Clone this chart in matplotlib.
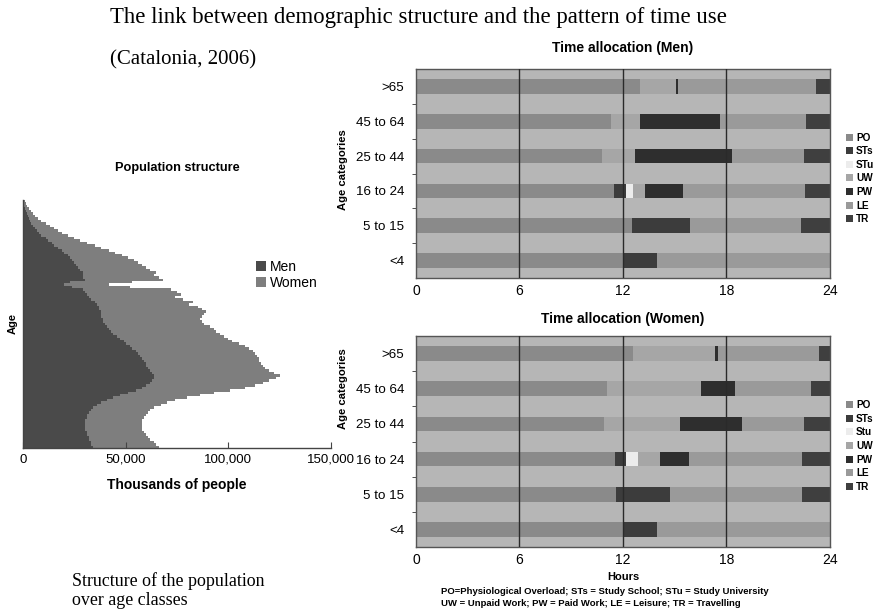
import matplotlib
matplotlib.use("Agg")
import matplotlib.pyplot as plt
import numpy as np

# ---------------- data ----------------
# Population of Catalonia by single year of age (0..100)
ages = list(range(0, 101))
men = [34, 33, 33, 32, 32, 31, 31, 30, 30, 30,
       30, 30, 31, 31, 32, 33, 34, 36, 38, 41,
       44, 47, 51, 55, 58, 60, 62, 63, 64, 64,
       63, 62, 61, 60, 60, 59, 58, 57, 56, 55,
       53, 52, 50, 49, 47, 46, 44, 43, 42, 41,
       40, 39, 39, 38, 38, 38, 37, 37, 36, 35,
       33, 32, 31, 30, 29, 24, 20, 23, 30, 29,
       29, 29, 28, 27, 26, 25, 24, 23, 22, 20,
       19, 17, 15, 14, 12, 11, 9, 8, 7, 6,
       5, 4, 3.5, 3, 2.5, 2, 1.5, 1, 0.7, 0.5,
       0.5]
women = [32, 32, 31, 30, 29, 29, 28, 28, 28, 28,
         28, 28, 28, 29, 29, 29, 30, 31, 32, 33,
         36, 39, 42, 46, 50, 53, 55, 57, 59, 61,
         59, 58, 57, 57, 56, 56, 57, 57, 57, 57,
         57, 56, 55, 53, 53, 52, 52, 51, 51, 50,
         48, 48, 47, 49, 50, 51, 50, 48, 45, 48,
         45, 42, 46, 45, 43, 28, 22, 30, 38, 37,
         35, 36, 34, 33, 32, 31, 30, 28, 26, 25,
         23, 21, 20, 17, 16, 14, 13, 11, 10, 9,
         8, 7, 5.5, 4.5, 3.5, 3, 2.5, 2, 1.3, 1,
         0.7]
men = [v * 1000 for v in men]
women = [v * 1000 for v in women]
pop_ticks = [0, 50000, 100000, 150000]
pop_tick_labels = ["0", "50,000", "100,000", "150,000"]

# Daily time allocation (hours) by age category
age_categories = ["<4", "5 to 15", "16 to 24", "25 to 44", "45 to 64", ">65"]
activities = ["PO", "STs", "STu", "UW", "PW", "LE", "TR"]
activities_women_labels = ["PO", "STs", "Stu", "UW", "PW", "LE", "TR"]

men_hours = {
    "PO":  [12.0, 12.5, 11.45, 10.8, 11.3, 13.0],
    "STs": [2.0, 3.4, 0.75, 0.0, 0.0, 0.0],
    "STu": [0.0, 0.0, 0.4, 0.0, 0.0, 0.0],
    "UW":  [0.0, 0.0, 0.7, 1.9, 1.7, 2.05],
    "PW":  [0.0, 0.0, 2.15, 5.6, 4.65, 0.15],
    "LE":  [10.0, 6.4, 7.1, 4.2, 4.95, 8.0],
    "TR":  [0.0, 1.7, 1.45, 1.5, 1.4, 0.8],
}
women_hours = {
    "PO":  [12.0, 11.6, 11.55, 10.9, 11.1, 12.6],
    "STs": [2.0, 3.1, 0.65, 0.0, 0.0, 0.0],
    "STu": [0.0, 0.0, 0.65, 0.0, 0.0, 0.0],
    "UW":  [0.0, 0.0, 1.3, 4.4, 5.4, 4.75],
    "PW":  [0.0, 0.0, 1.65, 3.6, 2.0, 0.15],
    "LE":  [10.0, 7.7, 6.6, 3.6, 4.4, 5.85],
    "TR":  [0.0, 1.6, 1.6, 1.5, 1.1, 0.65],
}
hour_ticks = [0, 6, 12, 18, 24]

# ---------------- style ----------------
SANS = ["Liberation Sans", "DejaVu Sans"]
SERIF = ["Liberation Serif", "DejaVu Serif"]
plt.rcParams["font.family"] = SANS

act_colors = {
    "PO": "#8a8a8a",
    "STs": "#3c3c3c",
    "STu": "#ececec",
    "UW": "#a6a6a6",
    "PW": "#2e2e2e",
    "LE": "#9a9a9a",
    "TR": "#3f3f3f",
}
band_color = "#b6b6b6"
men_color = "#4a4a4a"
women_color = "#7e7e7e"

W, H = 879, 614
fig = plt.figure(figsize=(W / 100, H / 100), dpi=100)


def box(l, t, r, b):
    return [l / W, 1 - b / H, (r - l) / W, (b - t) / H]


# ---------------- headings ----------------
fig.text(418 / W, 1 - 17 / H,
         "The link between demographic structure and the pattern of time use",
         ha="center", va="center", family=SERIF, fontsize=16.4)
fig.text(110 / W, 1 - 60 / H, "(Catalonia, 2006)",
         ha="left", va="center", family=SERIF, fontsize=15)
fig.text(72 / W, 1 - 591 / H, "Structure of the population\nover age classes",
         ha="left", va="center", family=SERIF, fontsize=12.9, linespacing=1.15)

# ---------------- population pyramid ----------------
axp = fig.add_axes(box(23, 200, 331, 448))
axp.barh(ages, men, height=1.0, color=men_color, edgecolor="none", label="Men")
axp.barh(ages, women, left=men, height=1.0, color=women_color,
         edgecolor="none", label="Women")
axp.set_xlim(0, 150000)
axp.set_ylim(-0.5, 100.5)
axp.set_xticks(pop_ticks)
axp.set_xticklabels(pop_tick_labels, fontsize=9.5)
axp.set_yticks([])
axp.spines["top"].set_visible(False)
axp.spines["right"].set_visible(False)
for s in ("left", "bottom"):
    axp.spines[s].set_color("#444444")
    axp.spines[s].set_linewidth(1.0)
axp.tick_params(axis="x", direction="in", length=4, color="#444444", pad=4)
axp.set_ylabel("Age", fontsize=8, fontweight="bold", labelpad=4)
axp.set_xlabel("Thousands of people", fontsize=10, fontweight="bold", labelpad=9)
axp.set_title("Population structure", fontsize=9.2, fontweight="bold", pad=21)
axp.legend(loc="upper left", bbox_to_anchor=(0.74, 0.78), frameon=False,
           fontsize=10, handlelength=0.7, handleheight=0.7,
           handletextpad=0.3, labelspacing=0.15, borderaxespad=0)


# ---------------- time allocation charts ----------------
def time_chart(rect, hours, labels, title, title_pad, ylabel_y):
    ax = fig.add_axes(rect)
    ax.set_facecolor(band_color)
    y = np.arange(len(age_categories))
    left = np.zeros(len(age_categories))
    handles = []
    for act, lab in zip(activities, labels):
        vals = np.array(hours[act])
        bars = ax.barh(y, vals, left=left, height=0.42, color=act_colors[act],
                       linewidth=0, label=lab, zorder=2)
        handles.append(bars)
        left += vals
    for h in hour_ticks[1:-1]:
        ax.axvline(h, color="#2a2a2a", linewidth=1.0, zorder=3)
    ax.set_xlim(0, 24)
    ax.set_ylim(-0.5, len(age_categories) - 0.5)
    ax.set_xticks(hour_ticks)
    ax.set_xticklabels([str(t) for t in hour_ticks], fontsize=10)
    ax.set_yticks(y)
    ax.set_yticklabels(age_categories, fontsize=9.6)
    ax.set_yticks(np.arange(len(age_categories) - 1) + 0.5, minor=True)
    ax.tick_params(axis="y", which="major", length=0, pad=8.5)
    ax.tick_params(axis="y", which="minor", length=3, color="#333333",
                   direction="out")
    ax.tick_params(axis="x", length=0, pad=4)
    for s in ax.spines.values():
        s.set_color("#555555")
        s.set_linewidth(1.0)
    ax.set_ylabel("Age categories", fontsize=8.1, fontweight="bold")
    ax.yaxis.set_label_coords(-0.165, ylabel_y)
    ax.set_title(title, fontsize=10, fontweight="bold", pad=title_pad)
    ax.legend(handles=handles, loc="upper left",
              bbox_to_anchor=(1.03, 0.715), frameon=False,
              prop={"size": 7.2, "weight": "bold"},
              handlelength=0.7, handleheight=0.7, handletextpad=0.25,
              labelspacing=0.36, borderaxespad=0)
    return ax


axm = time_chart(box(416, 69, 830, 278), men_hours, activities,
                 "Time allocation (Men)", 12, 0.52)
axw = time_chart(box(416, 336, 830, 547), women_hours, activities_women_labels,
                 "Time allocation (Women)", 9, 0.75)
axw.set_xlabel("Hours", fontsize=8, fontweight="bold", labelpad=4)

fig.text(441 / W, 1 - 592 / H,
         "PO=Physiological Overload; STs = Study School; STu = Study University",
         ha="left", va="center", fontsize=6.8, fontweight="bold")
fig.text(441 / W, 1 - 603 / H,
         "UW = Unpaid Work; PW = Paid Work; LE = Leisure; TR = Travelling",
         ha="left", va="center", fontsize=6.8, fontweight="bold")

fig.savefig("out.png", dpi=100)
